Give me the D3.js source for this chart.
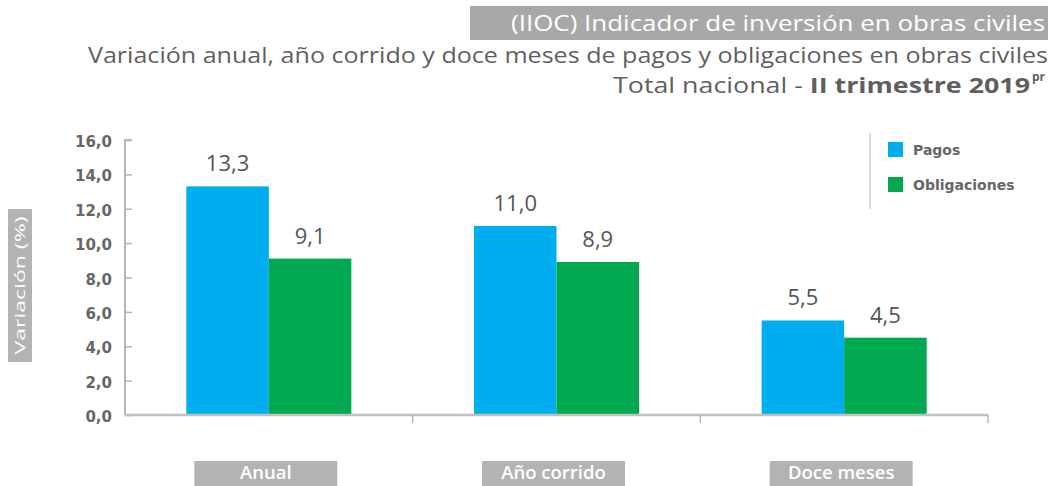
<!DOCTYPE html>
<html lang="es">
<head>
<meta charset="UTF-8">
<title>IIOC - Variación</title>
<style>
  body { margin: 0; background: #fff; }
  svg text { font-family: "Open Sans", sans-serif; }
</style>
</head>
<body>
<script src="https://d3js.org/d3.v7.min.js"></script>
<script>
const categories = ['Anual', 'Año corrido', 'Doce meses']
const series = ['Pagos', 'Obligaciones']
const pagos = [13.3, 11.0, 5.5]
const obligaciones = [9.1, 8.9, 4.5]
const yTicks = [0, 2, 4, 6, 8, 10, 12, 14, 16]

const colors = { Pagos: '#00aeef', Obligaciones: '#00a94f' }
const m = { width: 1052, height: 486 }
const fmt = v => v.toFixed(1).replace('.', ',')

const svg = d3.select('body').append('svg')
    .attr('width', m.width)
    .attr('height', m.height)

// titles
svg.append('rect')
    .attr('x', 470).attr('y', 6)
    .attr('width', 578).attr('height', 34)
    .attr('fill', '#a8a8a8')
svg.append('text')
    .attr('x', 511).attr('y', 31)
    .attr('font-size', 21)
    .attr('fill', '#fff')
    .attr('textLength', 534)
    .attr('lengthAdjust', 'spacingAndGlyphs')
    .text('(IIOC) Indicador de inversión en obras civiles')
svg.append('text')
    .attr('x', 88).attr('y', 63)
    .attr('font-size', 21)
    .attr('fill', '#5f5f5f')
    .attr('textLength', 960)
    .attr('lengthAdjust', 'spacingAndGlyphs')
    .text('Variación anual, año corrido y doce meses de pagos y obligaciones en obras civiles')
const sub = svg.append('text')
    .attr('x', 613).attr('y', 93)
    .attr('font-size', 21.5)
    .attr('fill', '#5f5f5f')
    .attr('textLength', 417)
    .attr('lengthAdjust', 'spacingAndGlyphs')
sub.append('tspan').text('Total nacional - ')
sub.append('tspan').attr('font-weight', 'bold').text('II trimestre 2019')
svg.append('text')
    .attr('x', 1032).attr('y', 81)
    .attr('font-size', 12)
    .attr('font-weight', 'bold')
    .attr('fill', '#5f5f5f')
    .text('pr')

// scales
const x0 = d3.scaleBand().domain(categories).range([125, 988])
const x1 = d3.scaleBand().domain(series).range([0, 165])
const y = d3.scaleLinear().domain([0, 16]).range([415, 140])

const rows = categories.map((c, i) => ({ cat: c, values: [
    { key: 'Pagos', value: pagos[i] },
    { key: 'Obligaciones', value: obligaciones[i] }
] }))

const groupOffset = (x0.bandwidth() - 165) / 2

const groups = svg.selectAll('.grp')
    .data(rows)
    .enter()
    .append('g')
    .attr('transform', d => `translate(${x0(d.cat) + groupOffset},0)`)

groups.selectAll('rect')
    .data(d => d.values)
    .enter()
    .append('rect')
        .attr('x', d => x1(d.key))
        .attr('y', d => y(d.value))
        .attr('width', x1.bandwidth())
        .attr('height', d => y(0) - y(d.value))
        .attr('fill', d => colors[d.key])

groups.selectAll('.lbl')
    .data(d => d.values)
    .enter()
    .append('text')
        .attr('x', d => x1(d.key) + x1.bandwidth() / 2)
        .attr('y', d => y(d.value) - 15)
        .attr('text-anchor', 'middle')
        .attr('font-size', 22)
        .attr('fill', '#555')
        .text(d => fmt(d.value))

// y axis
const yAxis = svg.append('g')
    .attr('transform', 'translate(125,0)')
    .call(d3.axisRight(y).tickValues(yTicks).tickSize(7).tickFormat(() => ''))
yAxis.select('.domain').attr('stroke', '#b5b5b5').attr('stroke-width', 2)
    .attr('d', `M7,${y(16)}H0V${y(0)}`)
yAxis.selectAll('.tick line').attr('stroke', '#b5b5b5').attr('stroke-width', 1.5)

svg.selectAll('.ytl')
    .data(yTicks)
    .enter()
    .append('text')
        .attr('x', 112)
        .attr('y', d => y(d) + 7)
        .attr('text-anchor', 'end')
        .attr('font-size', 15)
        .attr('font-weight', 'bold')
        .attr('fill', '#666')
        .style('font-family', '"DejaVu Sans", sans-serif')
        .text(fmt)

// x axis
svg.append('line')
    .attr('x1', 125).attr('x2', 988)
    .attr('y1', y(0)).attr('y2', y(0))
    .attr('stroke', '#c0c0c0').attr('stroke-width', 2.5)
svg.selectAll('.xt')
    .data(categories.slice(1).concat(['end']))
    .enter()
    .append('line')
        .attr('x1', d => d === 'end' ? 988 : x0(d))
        .attr('x2', d => d === 'end' ? 988 : x0(d))
        .attr('y1', y(0)).attr('y2', y(0) + 8)
        .attr('stroke', '#b5b5b5').attr('stroke-width', 1.5)

// category labels in grey boxes
const catG = svg.selectAll('.cat')
    .data(categories)
    .enter()
    .append('g')
    .attr('transform', d => `translate(${x0(d) + x0.bandwidth() / 2 - 3},0)`)
catG.append('rect')
    .attr('x', -71.5)
    .attr('y', 461)
    .attr('width', 143)
    .attr('height', 30)
    .attr('fill', '#b3b3b3')
catG.append('text')
    .attr('y', 479)
    .attr('text-anchor', 'middle')
    .attr('font-size', 18.5)
    .attr('font-weight', 600)
    .attr('fill', '#fff')
    .text(d => d)

// y title
svg.append('rect')
    .attr('x', 8).attr('y', 209)
    .attr('width', 24).attr('height', 153)
    .attr('fill', '#b3b3b3')
svg.append('text')
    .attr('transform', 'translate(25,285.5) rotate(-90)')
    .attr('text-anchor', 'middle')
    .attr('font-size', 14.5)
    .attr('fill', '#fff')
    .attr('textLength', 138)
    .attr('lengthAdjust', 'spacingAndGlyphs')
    .text('Variación (%)')

// legend
svg.append('line')
    .attr('x1', 870).attr('x2', 870)
    .attr('y1', 133).attr('y2', 209)
    .attr('stroke', '#ccc').attr('stroke-width', 1.5)
const leg = svg.selectAll('.leg')
    .data(series)
    .enter()
    .append('g')
    .attr('transform', (d, i) => `translate(888,${142 + i * 35})`)
leg.append('rect')
    .attr('width', 15).attr('height', 15)
    .attr('fill', d => colors[d])
leg.append('text')
    .attr('x', 25).attr('y', 13)
    .attr('font-size', 14)
    .attr('font-weight', 'bold')
    .attr('fill', '#666')
    .style('font-family', '"DejaVu Sans", sans-serif')
    .text(d => d)
</script>
</body>
</html>
